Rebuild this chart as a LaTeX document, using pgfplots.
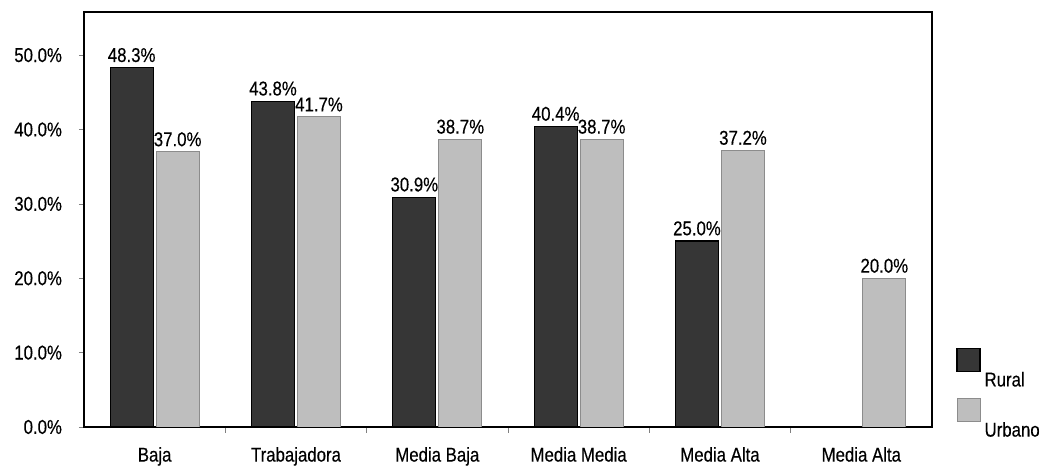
\documentclass[border=0pt]{standalone}
\usepackage{pgfplots}
\pgfplotsset{compat=1.18}
\usepackage{fontspec}
\setmainfont{Liberation Sans}[FakeStretch=0.84, FakeBold=0.3]

\definecolor{rural}{HTML}{363636}
\definecolor{urbano}{HTML}{BEBEBE}

\begin{document}
\begin{tikzpicture}
\begin{axis}[
  scale only axis, width=424pt, height=207.5pt,
  xmin=-0.5, xmax=5.5, ymin=0, ymax=55.8,
  ybar=1.5pt, bar width=21.5pt,
  font=\fontsize{10}{11}\selectfont,
  /pgf/number format/assume math mode=true,
  xtick={0,...,5},
  xticklabels={Baja,Trabajadora,Media Baja,Media Media,Media Alta,Media Alta},
  major x tick style={draw=none},
  minor xtick={0.5,1.5,2.5,3.5,4.5},
  minor tick length=3pt,
  xticklabel style={yshift=-4pt},
  ytick={0,10,...,50},
  yticklabel={\pgfmathprintnumber[fixed,fixed zerofill,precision=1]{\tick}\%},
  yticklabel style={xshift=-5pt},
  major tick length=2.5pt,
  tick align=outside,
  xtick pos=bottom, ytick pos=left,
  axis line style={black, line width=0.6pt},
  nodes near coords={\pgfmathprintnumber[fixed,fixed zerofill,precision=1]{\pgfplotspointmeta}\%},
  every node near coord/.append style={inner sep=2.5pt, font=\fontsize{10}{11}\selectfont},
  legend image code/.code={\fill[#1] (0pt,4.5pt) rectangle (11.5pt,16pt);},
  legend style={draw=none, fill=none, at={(1,0)}, anchor=south west,
    xshift=12pt, yshift=-8.5pt, inner sep=0pt, row sep=2.5pt,
    font=\fontsize{10}{11}\selectfont,
    /tikz/every even column/.append style={column sep=5pt}},
  legend cell align=left,
]
\addplot[fill=rural, draw=black, line width=0.6pt] coordinates {
  (0,48.3) (1,43.8) (2,30.9) (3,40.4) (4,25.0)};
\addplot[fill=urbano, draw=black!45, line width=0.4pt] coordinates {
  (0,37.0) (1,41.7) (2,38.7) (3,38.7) (4,37.2) (5,20.0)};
\legend{Rural,Urbano}
\coordinate (SW) at (rel axis cs:0,0);
\coordinate (NE) at (rel axis cs:1,1);
\end{axis}
\path ([shift={(-42pt,-18pt)}]SW) rectangle ([shift={(59.5pt,6pt)}]NE);
\end{tikzpicture}
\end{document}
